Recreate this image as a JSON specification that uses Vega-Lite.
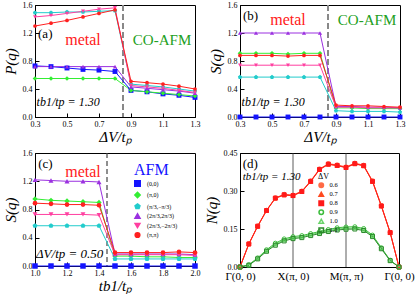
{
"$schema": "https://vega.github.io/schema/vega-lite/v6.json",
"padding": {"left": 2, "right": 2, "top": 0, "bottom": 0},
"config": {
  "font": "Liberation Serif",
  "view": {"stroke": "black", "strokeWidth": 1},
  "axis": {"labelFont": "Liberation Serif", "labelFontSize": 8, "labelColor": "black", "titleFont": "Liberation Serif", "titleFontSize": 15, "titleFontWeight": "normal", "titleFontStyle": "italic", "titleColor": "black", "grid": false, "domainColor": "black", "tickColor": "black", "tickSize": -4, "labelPadding": 7, "labelFlush": false, "labelOverlap": false, "labelBound": false},
  "legend": {"labelFont": "Liberation Serif", "titleFont": "Liberation Serif"}
},
"datasets": {
  "a": [
    {"q":"(0,0)","x":0.3,"y":0.73},{"q":"(0,0)","x":0.4,"y":0.72},{"q":"(0,0)","x":0.5,"y":0.70},{"q":"(0,0)","x":0.6,"y":0.68},{"q":"(0,0)","x":0.7,"y":0.67},{"q":"(0,0)","x":0.8,"y":0.65},{"q":"(0,0)","x":0.9,"y":0.38},{"q":"(0,0)","x":1.0,"y":0.36},{"q":"(0,0)","x":1.1,"y":0.33},{"q":"(0,0)","x":1.2,"y":0.31},{"q":"(0,0)","x":1.3,"y":0.28},
    {"q":"(π,0)","x":0.3,"y":0.55},{"q":"(π,0)","x":0.4,"y":0.55},{"q":"(π,0)","x":0.5,"y":0.55},{"q":"(π,0)","x":0.6,"y":0.55},{"q":"(π,0)","x":0.7,"y":0.55},{"q":"(π,0)","x":0.8,"y":0.55},{"q":"(π,0)","x":0.9,"y":0.38},{"q":"(π,0)","x":1.0,"y":0.36},{"q":"(π,0)","x":1.1,"y":0.34},{"q":"(π,0)","x":1.2,"y":0.32},{"q":"(π,0)","x":1.3,"y":0.30},
    {"q":"(π/3,−π/3)","x":0.3,"y":1.49},{"q":"(π/3,−π/3)","x":0.4,"y":1.49},{"q":"(π/3,−π/3)","x":0.5,"y":1.50},{"q":"(π/3,−π/3)","x":0.6,"y":1.50},{"q":"(π/3,−π/3)","x":0.7,"y":1.51},{"q":"(π/3,−π/3)","x":0.8,"y":1.52},{"q":"(π/3,−π/3)","x":0.9,"y":0.47},{"q":"(π/3,−π/3)","x":1.0,"y":0.45},{"q":"(π/3,−π/3)","x":1.1,"y":0.43},{"q":"(π/3,−π/3)","x":1.2,"y":0.40},{"q":"(π/3,−π/3)","x":1.3,"y":0.37},
    {"q":"(2π/3,2π/3)","x":0.3,"y":0.72},{"q":"(2π/3,2π/3)","x":0.4,"y":0.72},{"q":"(2π/3,2π/3)","x":0.5,"y":0.72},{"q":"(2π/3,2π/3)","x":0.6,"y":0.72},{"q":"(2π/3,2π/3)","x":0.7,"y":0.72},{"q":"(2π/3,2π/3)","x":0.8,"y":0.72},{"q":"(2π/3,2π/3)","x":0.9,"y":0.43},{"q":"(2π/3,2π/3)","x":1.0,"y":0.41},{"q":"(2π/3,2π/3)","x":1.1,"y":0.39},{"q":"(2π/3,2π/3)","x":1.2,"y":0.37},{"q":"(2π/3,2π/3)","x":1.3,"y":0.34},
    {"q":"(2π/3,−2π/3)","x":0.3,"y":1.43},{"q":"(2π/3,−2π/3)","x":0.4,"y":1.45},{"q":"(2π/3,−2π/3)","x":0.5,"y":1.48},{"q":"(2π/3,−2π/3)","x":0.6,"y":1.51},{"q":"(2π/3,−2π/3)","x":0.7,"y":1.54},{"q":"(2π/3,−2π/3)","x":0.8,"y":1.56},{"q":"(2π/3,−2π/3)","x":0.9,"y":0.45},{"q":"(2π/3,−2π/3)","x":1.0,"y":0.43},{"q":"(2π/3,−2π/3)","x":1.1,"y":0.41},{"q":"(2π/3,−2π/3)","x":1.2,"y":0.38},{"q":"(2π/3,−2π/3)","x":1.3,"y":0.35},
    {"q":"(π,π)","x":0.3,"y":1.30},{"q":"(π,π)","x":0.4,"y":1.34},{"q":"(π,π)","x":0.5,"y":1.38},{"q":"(π,π)","x":0.6,"y":1.43},{"q":"(π,π)","x":0.7,"y":1.48},{"q":"(π,π)","x":0.8,"y":1.53},{"q":"(π,π)","x":0.9,"y":0.51},{"q":"(π,π)","x":1.0,"y":0.49},{"q":"(π,π)","x":1.1,"y":0.47},{"q":"(π,π)","x":1.2,"y":0.44},{"q":"(π,π)","x":1.3,"y":0.40}
  ],
  "b": [
    {"q":"(0,0)","x":0.3,"y":0},{"q":"(0,0)","x":0.4,"y":0},{"q":"(0,0)","x":0.5,"y":0},{"q":"(0,0)","x":0.6,"y":0},{"q":"(0,0)","x":0.7,"y":0},{"q":"(0,0)","x":0.8,"y":0},{"q":"(0,0)","x":0.9,"y":0},{"q":"(0,0)","x":1.0,"y":0},{"q":"(0,0)","x":1.1,"y":0},{"q":"(0,0)","x":1.2,"y":0},{"q":"(0,0)","x":1.3,"y":0},
    {"q":"(π,0)","x":0.3,"y":0.91},{"q":"(π,0)","x":0.4,"y":0.91},{"q":"(π,0)","x":0.5,"y":0.91},{"q":"(π,0)","x":0.6,"y":0.90},{"q":"(π,0)","x":0.7,"y":0.91},{"q":"(π,0)","x":0.8,"y":0.91},{"q":"(π,0)","x":0.9,"y":0.13},{"q":"(π,0)","x":1.0,"y":0.13},{"q":"(π,0)","x":1.1,"y":0.12},{"q":"(π,0)","x":1.2,"y":0.12},{"q":"(π,0)","x":1.3,"y":0.12},
    {"q":"(π/3,−π/3)","x":0.3,"y":0.57},{"q":"(π/3,−π/3)","x":0.4,"y":0.57},{"q":"(π/3,−π/3)","x":0.5,"y":0.57},{"q":"(π/3,−π/3)","x":0.6,"y":0.57},{"q":"(π/3,−π/3)","x":0.7,"y":0.57},{"q":"(π/3,−π/3)","x":0.8,"y":0.57},{"q":"(π/3,−π/3)","x":0.9,"y":0.09},{"q":"(π/3,−π/3)","x":1.0,"y":0.08},{"q":"(π/3,−π/3)","x":1.1,"y":0.08},{"q":"(π/3,−π/3)","x":1.2,"y":0.08},{"q":"(π/3,−π/3)","x":1.3,"y":0.07},
    {"q":"(2π/3,2π/3)","x":0.3,"y":1.20},{"q":"(2π/3,2π/3)","x":0.4,"y":1.20},{"q":"(2π/3,2π/3)","x":0.5,"y":1.20},{"q":"(2π/3,2π/3)","x":0.6,"y":1.20},{"q":"(2π/3,2π/3)","x":0.7,"y":1.20},{"q":"(2π/3,2π/3)","x":0.8,"y":1.20},{"q":"(2π/3,2π/3)","x":0.9,"y":0.15},{"q":"(2π/3,2π/3)","x":1.0,"y":0.15},{"q":"(2π/3,2π/3)","x":1.1,"y":0.14},{"q":"(2π/3,2π/3)","x":1.2,"y":0.14},{"q":"(2π/3,2π/3)","x":1.3,"y":0.13},
    {"q":"(2π/3,−2π/3)","x":0.3,"y":0.74},{"q":"(2π/3,−2π/3)","x":0.4,"y":0.74},{"q":"(2π/3,−2π/3)","x":0.5,"y":0.74},{"q":"(2π/3,−2π/3)","x":0.6,"y":0.74},{"q":"(2π/3,−2π/3)","x":0.7,"y":0.74},{"q":"(2π/3,−2π/3)","x":0.8,"y":0.74},{"q":"(2π/3,−2π/3)","x":0.9,"y":0.14},{"q":"(2π/3,−2π/3)","x":1.0,"y":0.14},{"q":"(2π/3,−2π/3)","x":1.1,"y":0.13},{"q":"(2π/3,−2π/3)","x":1.2,"y":0.13},{"q":"(2π/3,−2π/3)","x":1.3,"y":0.13},
    {"q":"(π,π)","x":0.3,"y":0.88},{"q":"(π,π)","x":0.4,"y":0.88},{"q":"(π,π)","x":0.5,"y":0.88},{"q":"(π,π)","x":0.6,"y":0.87},{"q":"(π,π)","x":0.7,"y":0.88},{"q":"(π,π)","x":0.8,"y":0.88},{"q":"(π,π)","x":0.9,"y":0.17},{"q":"(π,π)","x":1.0,"y":0.16},{"q":"(π,π)","x":1.1,"y":0.16},{"q":"(π,π)","x":1.2,"y":0.15},{"q":"(π,π)","x":1.3,"y":0.14}
  ],
  "c": [
    {"q":"(0,0)","x":1.0,"y":0},{"q":"(0,0)","x":1.1,"y":0},{"q":"(0,0)","x":1.2,"y":0},{"q":"(0,0)","x":1.3,"y":0},{"q":"(0,0)","x":1.4,"y":0},{"q":"(0,0)","x":1.5,"y":0},{"q":"(0,0)","x":1.6,"y":0},{"q":"(0,0)","x":1.7,"y":0},{"q":"(0,0)","x":1.8,"y":0},{"q":"(0,0)","x":1.9,"y":0},{"q":"(0,0)","x":2.0,"y":0},
    {"q":"(π,0)","x":1.0,"y":0.95},{"q":"(π,0)","x":1.1,"y":0.93},{"q":"(π,0)","x":1.2,"y":0.92},{"q":"(π,0)","x":1.3,"y":0.91},{"q":"(π,0)","x":1.4,"y":0.90},{"q":"(π,0)","x":1.5,"y":0.14},{"q":"(π,0)","x":1.6,"y":0.14},{"q":"(π,0)","x":1.7,"y":0.13},{"q":"(π,0)","x":1.8,"y":0.13},{"q":"(π,0)","x":1.9,"y":0.12},{"q":"(π,0)","x":2.0,"y":0.12},
    {"q":"(π/3,−π/3)","x":1.0,"y":0.57},{"q":"(π/3,−π/3)","x":1.1,"y":0.57},{"q":"(π/3,−π/3)","x":1.2,"y":0.57},{"q":"(π/3,−π/3)","x":1.3,"y":0.57},{"q":"(π/3,−π/3)","x":1.4,"y":0.57},{"q":"(π/3,−π/3)","x":1.5,"y":0.10},{"q":"(π/3,−π/3)","x":1.6,"y":0.10},{"q":"(π/3,−π/3)","x":1.7,"y":0.10},{"q":"(π/3,−π/3)","x":1.8,"y":0.10},{"q":"(π/3,−π/3)","x":1.9,"y":0.10},{"q":"(π/3,−π/3)","x":2.0,"y":0.10},
    {"q":"(2π/3,2π/3)","x":1.0,"y":1.22},{"q":"(2π/3,2π/3)","x":1.1,"y":1.21},{"q":"(2π/3,2π/3)","x":1.2,"y":1.20},{"q":"(2π/3,2π/3)","x":1.3,"y":1.20},{"q":"(2π/3,2π/3)","x":1.4,"y":1.19},{"q":"(2π/3,2π/3)","x":1.5,"y":0.17},{"q":"(2π/3,2π/3)","x":1.6,"y":0.17},{"q":"(2π/3,2π/3)","x":1.7,"y":0.17},{"q":"(2π/3,2π/3)","x":1.8,"y":0.17},{"q":"(2π/3,2π/3)","x":1.9,"y":0.17},{"q":"(2π/3,2π/3)","x":2.0,"y":0.16},
    {"q":"(2π/3,−2π/3)","x":1.0,"y":0.73},{"q":"(2π/3,−2π/3)","x":1.1,"y":0.73},{"q":"(2π/3,−2π/3)","x":1.2,"y":0.73},{"q":"(2π/3,−2π/3)","x":1.3,"y":0.73},{"q":"(2π/3,−2π/3)","x":1.4,"y":0.72},{"q":"(2π/3,−2π/3)","x":1.5,"y":0.16},{"q":"(2π/3,−2π/3)","x":1.6,"y":0.16},{"q":"(2π/3,−2π/3)","x":1.7,"y":0.16},{"q":"(2π/3,−2π/3)","x":1.8,"y":0.16},{"q":"(2π/3,−2π/3)","x":1.9,"y":0.16},{"q":"(2π/3,−2π/3)","x":2.0,"y":0.15},
    {"q":"(π,π)","x":1.0,"y":0.89},{"q":"(π,π)","x":1.1,"y":0.88},{"q":"(π,π)","x":1.2,"y":0.87},{"q":"(π,π)","x":1.3,"y":0.87},{"q":"(π,π)","x":1.4,"y":0.86},{"q":"(π,π)","x":1.5,"y":0.19},{"q":"(π,π)","x":1.6,"y":0.19},{"q":"(π,π)","x":1.7,"y":0.19},{"q":"(π,π)","x":1.8,"y":0.19},{"q":"(π,π)","x":1.9,"y":0.20},{"q":"(π,π)","x":2.0,"y":0.19}
  ],
  "d": [
    {"dv":"0.6","i":0,"y":0},{"dv":"0.6","i":1,"y":0.092},{"dv":"0.6","i":2,"y":0.162},{"dv":"0.6","i":3,"y":0.224},{"dv":"0.6","i":4,"y":0.273},{"dv":"0.6","i":5,"y":0.287},{"dv":"0.6","i":6,"y":0.284},{"dv":"0.6","i":7,"y":0.300},{"dv":"0.6","i":8,"y":0.340},{"dv":"0.6","i":9,"y":0.387},{"dv":"0.6","i":10,"y":0.408},{"dv":"0.6","i":11,"y":0.403},{"dv":"0.6","i":12,"y":0.395},{"dv":"0.6","i":13,"y":0.410},{"dv":"0.6","i":14,"y":0.402},{"dv":"0.6","i":15,"y":0.340},{"dv":"0.6","i":16,"y":0.243},{"dv":"0.6","i":17,"y":0.137},{"dv":"0.6","i":18,"y":0},
    {"dv":"0.7","i":0,"y":0},{"dv":"0.7","i":1,"y":0.090},{"dv":"0.7","i":2,"y":0.160},{"dv":"0.7","i":3,"y":0.222},{"dv":"0.7","i":4,"y":0.271},{"dv":"0.7","i":5,"y":0.284},{"dv":"0.7","i":6,"y":0.281},{"dv":"0.7","i":7,"y":0.297},{"dv":"0.7","i":8,"y":0.337},{"dv":"0.7","i":9,"y":0.384},{"dv":"0.7","i":10,"y":0.405},{"dv":"0.7","i":11,"y":0.400},{"dv":"0.7","i":12,"y":0.392},{"dv":"0.7","i":13,"y":0.407},{"dv":"0.7","i":14,"y":0.399},{"dv":"0.7","i":15,"y":0.337},{"dv":"0.7","i":16,"y":0.240},{"dv":"0.7","i":17,"y":0.135},{"dv":"0.7","i":18,"y":0},
    {"dv":"0.8","i":0,"y":0},{"dv":"0.8","i":1,"y":0.091},{"dv":"0.8","i":2,"y":0.161},{"dv":"0.8","i":3,"y":0.223},{"dv":"0.8","i":4,"y":0.272},{"dv":"0.8","i":5,"y":0.285},{"dv":"0.8","i":6,"y":0.282},{"dv":"0.8","i":7,"y":0.298},{"dv":"0.8","i":8,"y":0.338},{"dv":"0.8","i":9,"y":0.385},{"dv":"0.8","i":10,"y":0.406},{"dv":"0.8","i":11,"y":0.401},{"dv":"0.8","i":12,"y":0.393},{"dv":"0.8","i":13,"y":0.408},{"dv":"0.8","i":14,"y":0.400},{"dv":"0.8","i":15,"y":0.338},{"dv":"0.8","i":16,"y":0.241},{"dv":"0.8","i":17,"y":0.136},{"dv":"0.8","i":18,"y":0},
    {"dv":"0.9","i":0,"y":0},{"dv":"0.9","i":1,"y":0.009},{"dv":"0.9","i":2,"y":0.036},{"dv":"0.9","i":3,"y":0.068},{"dv":"0.9","i":4,"y":0.094},{"dv":"0.9","i":5,"y":0.111},{"dv":"0.9","i":6,"y":0.120},{"dv":"0.9","i":7,"y":0.124},{"dv":"0.9","i":8,"y":0.132},{"dv":"0.9","i":9,"y":0.140},{"dv":"0.9","i":10,"y":0.148},{"dv":"0.9","i":11,"y":0.155},{"dv":"0.9","i":12,"y":0.158},{"dv":"0.9","i":13,"y":0.159},{"dv":"0.9","i":14,"y":0.152},{"dv":"0.9","i":15,"y":0.126},{"dv":"0.9","i":16,"y":0.076},{"dv":"0.9","i":17,"y":0.027},{"dv":"0.9","i":18,"y":0},
    {"dv":"1.0","i":0,"y":0},{"dv":"1.0","i":1,"y":0.008},{"dv":"1.0","i":2,"y":0.034},{"dv":"1.0","i":3,"y":0.065},{"dv":"1.0","i":4,"y":0.090},{"dv":"1.0","i":5,"y":0.107},{"dv":"1.0","i":6,"y":0.116},{"dv":"1.0","i":7,"y":0.120},{"dv":"1.0","i":8,"y":0.128},{"dv":"1.0","i":9,"y":0.136},{"dv":"1.0","i":10,"y":0.144},{"dv":"1.0","i":11,"y":0.150},{"dv":"1.0","i":12,"y":0.153},{"dv":"1.0","i":13,"y":0.154},{"dv":"1.0","i":14,"y":0.148},{"dv":"1.0","i":15,"y":0.123},{"dv":"1.0","i":16,"y":0.074},{"dv":"1.0","i":17,"y":0.026},{"dv":"1.0","i":18,"y":0},
    {"dv":"1.1","i":0,"y":0},{"dv":"1.1","i":1,"y":0.007},{"dv":"1.1","i":2,"y":0.032},{"dv":"1.1","i":3,"y":0.062},{"dv":"1.1","i":4,"y":0.086},{"dv":"1.1","i":5,"y":0.103},{"dv":"1.1","i":6,"y":0.112},{"dv":"1.1","i":7,"y":0.116},{"dv":"1.1","i":8,"y":0.124},{"dv":"1.1","i":9,"y":0.132},{"dv":"1.1","i":10,"y":0.140},{"dv":"1.1","i":11,"y":0.146},{"dv":"1.1","i":12,"y":0.149},{"dv":"1.1","i":13,"y":0.150},{"dv":"1.1","i":14,"y":0.144},{"dv":"1.1","i":15,"y":0.120},{"dv":"1.1","i":16,"y":0.072},{"dv":"1.1","i":17,"y":0.025},{"dv":"1.1","i":18,"y":0}
  ]
},
"columns": 2,
"spacing": {"row": 36, "column": 45},
"bounds": "flush",
"resolve": {"scale": {"color": "independent", "shape": "independent", "fill": "independent", "stroke": "independent", "size": "independent"}, "legend": {"color": "independent", "shape": "independent", "fill": "independent", "stroke": "independent", "size": "independent"}},
"concat": [
  {
    "width": 160, "height": 112,
    "layer": [
      {"data": {"values": [{"v": 0.85}]}, "mark": {"type": "rule", "color": "#888888", "strokeWidth": 2, "strokeDash": [6, 3]}, "encoding": {
        "x": {"field": "v", "type": "quantitative", "scale": {"domain": [0.3, 1.3], "nice": false, "zero": false}, "axis": {"values": [0.3,0.5,0.7,0.9,1.1,1.3], "format": ".1f", "title": "ΔV/tₚ", "titlePadding": 1, "labelOverlap": false}}}},
      {"data": {"name": "a"}, "mark": {"type": "line", "strokeWidth": 1}, "encoding": {
        "x": {"field": "x", "type": "quantitative", "axis": {"values": [0.3,0.5,0.7,0.9,1.1,1.3], "format": ".1f", "title": "ΔV/tₚ", "titlePadding": 1, "labelOverlap": false}},
        "y": {"field": "y", "type": "quantitative", "scale": {"domain": [0, 1.6], "nice": false}, "axis": {"values": [0,0.4,0.8,1.2,1.6], "format": ".1f", "title": "P(q)", "titlePadding": 4, "labelOverlap": false}},
        "stroke": {"field": "q", "type": "nominal", "scale": {"domain": ["(0,0)","(π,0)","(π/3,−π/3)","(2π/3,2π/3)","(2π/3,−2π/3)","(π,π)"], "range": ["#1414ff","#33ee33","#22cccc","#9b30e0","#ff3fa0","#ff2020"]}, "legend": null}}},
      {"data": {"name": "a"}, "mark": {"type": "point", "filled": true, "opacity": 1, "strokeWidth": 0}, "encoding": {
        "x": {"field": "x", "type": "quantitative", "axis": {"values": [0.3,0.5,0.7,0.9,1.1,1.3], "format": ".1f", "title": "ΔV/tₚ", "titlePadding": 1, "labelOverlap": false}},
        "y": {"field": "y", "type": "quantitative", "axis": {"values": [0,0.4,0.8,1.2,1.6], "format": ".1f", "title": "P(q)", "titlePadding": 4, "labelOverlap": false}},
        "fill": {"field": "q", "type": "nominal", "scale": {"domain": ["(0,0)","(π,0)","(π/3,−π/3)","(2π/3,2π/3)","(2π/3,−2π/3)","(π,π)"], "range": ["#1414ff","#33ee33","#22cccc","#9b30e0","#ff3fa0","#ff2020"]}, "legend": null},
        "shape": {"field": "q", "type": "nominal", "scale": {"domain": ["(0,0)","(π,0)","(π/3,−π/3)","(2π/3,2π/3)","(2π/3,−2π/3)","(π,π)"], "range": ["square","diamond","M0,-1L0.951,-0.309L0.588,0.809L-0.588,0.809L-0.951,-0.309Z","triangle-up","triangle-down","circle"]}, "legend": null},
        "size": {"field": "q", "type": "nominal", "scale": {"domain": ["(0,0)","(π,0)","(π/3,−π/3)","(2π/3,2π/3)","(2π/3,−2π/3)","(π,π)"], "range": [24,14,14,14,14,26]}, "legend": null}}},
      {"data": {"values": [{}]}, "mark": {"type": "text", "text": "(a)", "fontSize": 13, "align": "left", "baseline": "middle"}, "encoding": {
        "x": {"datum": 0.319, "type": "quantitative", "axis": {"values": [0.3,0.5,0.7,0.9,1.1,1.3], "format": ".1f", "title": "ΔV/tₚ", "titlePadding": 1, "labelOverlap": false}},
        "y": {"datum": 1.19, "type": "quantitative", "axis": {"values": [0,0.4,0.8,1.2,1.6], "format": ".1f", "title": "P(q)", "titlePadding": 4, "labelOverlap": false}}}},
      {"data": {"values": [{}]}, "mark": {"type": "text", "text": "metal", "fontSize": 16, "color": "#ff2020", "align": "center", "baseline": "middle"}, "encoding": {
        "x": {"datum": 0.6, "type": "quantitative", "axis": {"values": [0.3,0.5,0.7,0.9,1.1,1.3], "format": ".1f", "title": "ΔV/tₚ", "titlePadding": 1, "labelOverlap": false}},
        "y": {"datum": 1.1, "type": "quantitative", "axis": {"values": [0,0.4,0.8,1.2,1.6], "format": ".1f", "title": "P(q)", "titlePadding": 4, "labelOverlap": false}}}},
      {"data": {"values": [{}]}, "mark": {"type": "text", "text": "CO-AFM", "fontSize": 15, "color": "#22a022", "align": "center", "baseline": "middle"}, "encoding": {
        "x": {"datum": 1.094, "type": "quantitative", "axis": {"values": [0.3,0.5,0.7,0.9,1.1,1.3], "format": ".1f", "title": "ΔV/tₚ", "titlePadding": 1, "labelOverlap": false}},
        "y": {"datum": 1.1, "type": "quantitative", "axis": {"values": [0,0.4,0.8,1.2,1.6], "format": ".1f", "title": "P(q)", "titlePadding": 4, "labelOverlap": false}}}},
      {"data": {"values": [{}]}, "mark": {"type": "text", "text": "tb1/tp = 1.30", "fontSize": 12, "fontStyle": "italic", "align": "left", "baseline": "middle"}, "encoding": {
        "x": {"datum": 0.31, "type": "quantitative", "axis": {"values": [0.3,0.5,0.7,0.9,1.1,1.3], "format": ".1f", "title": "ΔV/tₚ", "titlePadding": 1, "labelOverlap": false}},
        "y": {"datum": 0.214, "type": "quantitative", "axis": {"values": [0,0.4,0.8,1.2,1.6], "format": ".1f", "title": "P(q)", "titlePadding": 4, "labelOverlap": false}}}}
    ]
  },
  {
    "width": 160, "height": 112,
    "layer": [
      {"data": {"values": [{"v": 0.85}]}, "mark": {"type": "rule", "color": "#888888", "strokeWidth": 2, "strokeDash": [6, 3]}, "encoding": {
        "x": {"field": "v", "type": "quantitative", "scale": {"domain": [0.3, 1.3], "nice": false, "zero": false}, "axis": {"values": [0.3,0.5,0.7,0.9,1.1,1.3], "format": ".1f", "title": "ΔV/tₚ", "titlePadding": 1, "labelOverlap": false}}}},
      {"data": {"name": "b"}, "mark": {"type": "line", "strokeWidth": 1}, "encoding": {
        "x": {"field": "x", "type": "quantitative", "axis": {"values": [0.3,0.5,0.7,0.9,1.1,1.3], "format": ".1f", "title": "ΔV/tₚ", "titlePadding": 1, "labelOverlap": false}},
        "y": {"field": "y", "type": "quantitative", "scale": {"domain": [0, 1.6], "nice": false}, "axis": {"values": [0,0.4,0.8,1.2,1.6], "format": ".1f", "title": "S(q)", "titlePadding": 4, "labelOverlap": false}},
        "stroke": {"field": "q", "type": "nominal", "scale": {"domain": ["(0,0)","(π,0)","(π/3,−π/3)","(2π/3,2π/3)","(2π/3,−2π/3)","(π,π)"], "range": ["#1414ff","#33ee33","#22cccc","#9b30e0","#ff3fa0","#ff2020"]}, "legend": null}}},
      {"data": {"name": "b"}, "mark": {"type": "point", "filled": true, "opacity": 1, "strokeWidth": 0}, "encoding": {
        "x": {"field": "x", "type": "quantitative", "axis": {"values": [0.3,0.5,0.7,0.9,1.1,1.3], "format": ".1f", "title": "ΔV/tₚ", "titlePadding": 1, "labelOverlap": false}},
        "y": {"field": "y", "type": "quantitative", "axis": {"values": [0,0.4,0.8,1.2,1.6], "format": ".1f", "title": "S(q)", "titlePadding": 4, "labelOverlap": false}},
        "fill": {"field": "q", "type": "nominal", "scale": {"domain": ["(0,0)","(π,0)","(π/3,−π/3)","(2π/3,2π/3)","(2π/3,−2π/3)","(π,π)"], "range": ["#1414ff","#33ee33","#22cccc","#9b30e0","#ff3fa0","#ff2020"]}, "legend": null},
        "shape": {"field": "q", "type": "nominal", "scale": {"domain": ["(0,0)","(π,0)","(π/3,−π/3)","(2π/3,2π/3)","(2π/3,−2π/3)","(π,π)"], "range": ["square","diamond","M0,-1L0.951,-0.309L0.588,0.809L-0.588,0.809L-0.951,-0.309Z","triangle-up","triangle-down","circle"]}, "legend": null},
        "size": {"field": "q", "type": "nominal", "scale": {"domain": ["(0,0)","(π,0)","(π/3,−π/3)","(2π/3,2π/3)","(2π/3,−2π/3)","(π,π)"], "range": [24,14,14,14,14,26]}, "legend": null}}},
      {"data": {"values": [{}]}, "mark": {"type": "text", "text": "(b)", "fontSize": 13, "align": "left", "baseline": "middle"}, "encoding": {
        "x": {"datum": 0.319, "type": "quantitative", "axis": {"values": [0.3,0.5,0.7,0.9,1.1,1.3], "format": ".1f", "title": "ΔV/tₚ", "titlePadding": 1, "labelOverlap": false}},
        "y": {"datum": 1.44, "type": "quantitative", "axis": {"values": [0,0.4,0.8,1.2,1.6], "format": ".1f", "title": "S(q)", "titlePadding": 4, "labelOverlap": false}}}},
      {"data": {"values": [{}]}, "mark": {"type": "text", "text": "metal", "fontSize": 16, "color": "#ff2020", "align": "center", "baseline": "middle"}, "encoding": {
        "x": {"datum": 0.6, "type": "quantitative", "axis": {"values": [0.3,0.5,0.7,0.9,1.1,1.3], "format": ".1f", "title": "ΔV/tₚ", "titlePadding": 1, "labelOverlap": false}},
        "y": {"datum": 1.39, "type": "quantitative", "axis": {"values": [0,0.4,0.8,1.2,1.6], "format": ".1f", "title": "S(q)", "titlePadding": 4, "labelOverlap": false}}}},
      {"data": {"values": [{}]}, "mark": {"type": "text", "text": "CO-AFM", "fontSize": 15, "color": "#22a022", "align": "center", "baseline": "middle"}, "encoding": {
        "x": {"datum": 1.094, "type": "quantitative", "axis": {"values": [0.3,0.5,0.7,0.9,1.1,1.3], "format": ".1f", "title": "ΔV/tₚ", "titlePadding": 1, "labelOverlap": false}},
        "y": {"datum": 1.39, "type": "quantitative", "axis": {"values": [0,0.4,0.8,1.2,1.6], "format": ".1f", "title": "S(q)", "titlePadding": 4, "labelOverlap": false}}}},
      {"data": {"values": [{}]}, "mark": {"type": "text", "text": "tb1/tp = 1.30", "fontSize": 12, "fontStyle": "italic", "align": "left", "baseline": "middle"}, "encoding": {
        "x": {"datum": 0.31, "type": "quantitative", "axis": {"values": [0.3,0.5,0.7,0.9,1.1,1.3], "format": ".1f", "title": "ΔV/tₚ", "titlePadding": 1, "labelOverlap": false}},
        "y": {"datum": 0.214, "type": "quantitative", "axis": {"values": [0,0.4,0.8,1.2,1.6], "format": ".1f", "title": "S(q)", "titlePadding": 4, "labelOverlap": false}}}}
    ]
  },
  {
    "width": 160, "height": 113,
    "layer": [
      {"data": {"values": [{"v": 1.45}]}, "mark": {"type": "rule", "color": "#444444", "strokeWidth": 1.2, "strokeDash": [5, 3]}, "encoding": {
        "x": {"field": "v", "type": "quantitative", "scale": {"domain": [1.0, 2.0], "nice": false, "zero": false}, "axis": {"values": [1.0,1.2,1.4,1.6,1.8,2.0], "format": ".1f", "title": "tb1/tₚ", "titlePadding": 1, "labelOverlap": false}}}},
      {"data": {"name": "c"}, "mark": {"type": "line", "strokeWidth": 1}, "encoding": {
        "x": {"field": "x", "type": "quantitative", "axis": {"values": [1.0,1.2,1.4,1.6,1.8,2.0], "format": ".1f", "title": "tb1/tₚ", "titlePadding": 1, "labelOverlap": false}},
        "y": {"field": "y", "type": "quantitative", "scale": {"domain": [0, 1.6], "nice": false}, "axis": {"values": [0,0.4,0.8,1.2,1.6], "format": ".1f", "title": "S(q)", "titlePadding": 4, "labelOverlap": false}},
        "stroke": {"field": "q", "type": "nominal", "scale": {"domain": ["(0,0)","(π,0)","(π/3,−π/3)","(2π/3,2π/3)","(2π/3,−2π/3)","(π,π)"], "range": ["#1414ff","#33ee33","#22cccc","#9b30e0","#ff3fa0","#ff2020"]}, "legend": {"orient": "none", "legendX": 99, "legendY": 9, "title": "AFM", "titleColor": "#1414ff", "titleFontSize": 16, "titleFontWeight": "normal", "titlePadding": 2, "labelFontSize": 6, "rowPadding": -1.5, "labelOffset": 6, "padding": 0}}}},
      {"data": {"name": "c"}, "mark": {"type": "point", "filled": true, "opacity": 1, "strokeWidth": 0}, "encoding": {
        "x": {"field": "x", "type": "quantitative", "axis": {"values": [1.0,1.2,1.4,1.6,1.8,2.0], "format": ".1f", "title": "tb1/tₚ", "titlePadding": 1, "labelOverlap": false}},
        "y": {"field": "y", "type": "quantitative", "axis": {"values": [0,0.4,0.8,1.2,1.6], "format": ".1f", "title": "S(q)", "titlePadding": 4, "labelOverlap": false}},
        "fill": {"field": "q", "type": "nominal", "scale": {"domain": ["(0,0)","(π,0)","(π/3,−π/3)","(2π/3,2π/3)","(2π/3,−2π/3)","(π,π)"], "range": ["#1414ff","#33ee33","#22cccc","#9b30e0","#ff3fa0","#ff2020"]}, "legend": {"orient": "none", "legendX": 99, "legendY": 9, "title": "AFM", "titleColor": "#1414ff", "titleFontSize": 16, "titleFontWeight": "normal", "titlePadding": 2, "labelFontSize": 6, "rowPadding": -1.5, "labelOffset": 6, "padding": 0}},
        "shape": {"field": "q", "type": "nominal", "scale": {"domain": ["(0,0)","(π,0)","(π/3,−π/3)","(2π/3,2π/3)","(2π/3,−2π/3)","(π,π)"], "range": ["square","diamond","M0,-1L0.951,-0.309L0.588,0.809L-0.588,0.809L-0.951,-0.309Z","triangle-up","triangle-down","circle"]}, "legend": {"orient": "none", "legendX": 99, "legendY": 9, "title": "AFM", "titleColor": "#1414ff", "titleFontSize": 16, "titleFontWeight": "normal", "titlePadding": 2, "labelFontSize": 6, "rowPadding": -1.5, "labelOffset": 6, "padding": 0}},
        "size": {"field": "q", "type": "nominal", "scale": {"domain": ["(0,0)","(π,0)","(π/3,−π/3)","(2π/3,2π/3)","(2π/3,−2π/3)","(π,π)"], "range": [30,22,24,22,22,34]}, "legend": {"orient": "none", "legendX": 99, "legendY": 9, "title": "AFM", "titleColor": "#1414ff", "titleFontSize": 16, "titleFontWeight": "normal", "titlePadding": 2, "labelFontSize": 6, "rowPadding": -1.5, "labelOffset": 6, "padding": 0}}}},
      {"data": {"values": [{}]}, "mark": {"type": "text", "text": "(c)", "fontSize": 13, "align": "left", "baseline": "middle"}, "encoding": {
        "x": {"datum": 1.02, "type": "quantitative", "axis": {"values": [1.0,1.2,1.4,1.6,1.8,2.0], "format": ".1f", "title": "tb1/tₚ", "titlePadding": 1, "labelOverlap": false}},
        "y": {"datum": 1.44, "type": "quantitative", "axis": {"values": [0,0.4,0.8,1.2,1.6], "format": ".1f", "title": "S(q)", "titlePadding": 4, "labelOverlap": false}}}},
      {"data": {"values": [{}]}, "mark": {"type": "text", "text": "metal", "fontSize": 16, "color": "#ff2020", "align": "center", "baseline": "middle"}, "encoding": {
        "x": {"datum": 1.3, "type": "quantitative", "axis": {"values": [1.0,1.2,1.4,1.6,1.8,2.0], "format": ".1f", "title": "tb1/tₚ", "titlePadding": 1, "labelOverlap": false}},
        "y": {"datum": 1.33, "type": "quantitative", "axis": {"values": [0,0.4,0.8,1.2,1.6], "format": ".1f", "title": "S(q)", "titlePadding": 4, "labelOverlap": false}}}},
      {"data": {"values": [{}]}, "mark": {"type": "text", "text": "ΔV/tp = 0.50", "fontSize": 13, "fontStyle": "italic", "align": "left", "baseline": "middle"}, "encoding": {
        "x": {"datum": 1.006, "type": "quantitative", "axis": {"values": [1.0,1.2,1.4,1.6,1.8,2.0], "format": ".1f", "title": "tb1/tₚ", "titlePadding": 1, "labelOverlap": false}},
        "y": {"datum": 0.17, "type": "quantitative", "axis": {"values": [0,0.4,0.8,1.2,1.6], "format": ".1f", "title": "S(q)", "titlePadding": 4, "labelOverlap": false}}}}
    ]
  },
  {
    "width": 159, "height": 114,
    "layer": [
      {"data": {"values": [{"v": 6}, {"v": 12}]}, "mark": {"type": "rule", "color": "#333333", "strokeWidth": 0.8}, "encoding": {
        "x": {"field": "v", "type": "quantitative", "scale": {"domain": [0, 18], "nice": false, "zero": false}, "axis": {"values": [0, 6, 12, 18], "labelExpr": "datum.value == 6 ? 'X(π, 0)' : datum.value == 12 ? 'M(π, π)' : 'Γ(0, 0)'", "labelFontSize": 11, "title": null, "tickSize": 0, "labelPadding": 3, "labelOverlap": false}}}},
      {"data": {"name": "d"}, "mark": {"type": "line", "strokeWidth": 1}, "encoding": {
        "x": {"field": "i", "type": "quantitative", "axis": {"values": [0, 6, 12, 18], "labelExpr": "datum.value == 6 ? 'X(π, 0)' : datum.value == 12 ? 'M(π, π)' : 'Γ(0, 0)'", "labelFontSize": 11, "title": null, "tickSize": 0, "labelPadding": 3, "labelOverlap": false}},
        "y": {"field": "y", "type": "quantitative", "scale": {"domain": [0, 0.45], "nice": false}, "axis": {"values": [0, 0.15, 0.3, 0.45], "labelExpr": "datum.value == 0 ? '0.0' : format(datum.value, '.2f')", "title": "N(q)", "titlePadding": 4, "labelOverlap": false}},
        "stroke": {"field": "dv", "type": "nominal", "scale": {"domain": ["0.6","0.7","0.8","0.9","1.0","1.1"], "range": ["#ff6a45","#ff4a20","#ff1a1a","#3cbc3c","#6ad46a","#2a8a2a"]}, "legend": {"orient": "none", "legendX": 78, "legendY": 20, "title": "ΔV", "titleFontSize": 8, "titleFontWeight": "normal", "titlePadding": 1, "labelFontSize": 6.5, "symbolSize": 20, "rowPadding": -2.5, "labelOffset": 5, "padding": 0}}}},
      {"data": {"name": "d"}, "mark": {"type": "point", "filled": false, "opacity": 1, "strokeWidth": 1}, "encoding": {
        "x": {"field": "i", "type": "quantitative", "axis": {"values": [0, 6, 12, 18], "labelExpr": "datum.value == 6 ? 'X(π, 0)' : datum.value == 12 ? 'M(π, π)' : 'Γ(0, 0)'", "labelFontSize": 11, "title": null, "tickSize": 0, "labelPadding": 3, "labelOverlap": false}},
        "y": {"field": "y", "type": "quantitative", "axis": {"values": [0, 0.15, 0.3, 0.45], "labelExpr": "datum.value == 0 ? '0.0' : format(datum.value, '.2f')", "title": "N(q)", "titlePadding": 4, "labelOverlap": false}},
        "stroke": {"field": "dv", "type": "nominal", "legend": {"orient": "none", "legendX": 78, "legendY": 20, "title": "ΔV", "titleFontSize": 8, "titleFontWeight": "normal", "titlePadding": 1, "labelFontSize": 6.5, "symbolSize": 20, "rowPadding": -2.5, "labelOffset": 5, "padding": 0}},
        "fill": {"field": "dv", "type": "nominal", "scale": {"domain": ["0.6","0.7","0.8","0.9","1.0","1.1"], "range": ["#ff6a45","#ff4a20","#ff1a1a","transparent","transparent","transparent"]}, "legend": {"orient": "none", "legendX": 78, "legendY": 20, "title": "ΔV", "titleFontSize": 8, "titleFontWeight": "normal", "titlePadding": 1, "labelFontSize": 6.5, "symbolSize": 20, "rowPadding": -2.5, "labelOffset": 5, "padding": 0}},
        "shape": {"field": "dv", "type": "nominal", "scale": {"domain": ["0.6","0.7","0.8","0.9","1.0","1.1"], "range": ["circle","triangle-up","square","circle","triangle-up","square"]}, "legend": {"orient": "none", "legendX": 78, "legendY": 20, "title": "ΔV", "titleFontSize": 8, "titleFontWeight": "normal", "titlePadding": 1, "labelFontSize": 6.5, "symbolSize": 20, "rowPadding": -2.5, "labelOffset": 5, "padding": 0}},
        "size": {"value": 16}}},
      {"data": {"values": [{}]}, "mark": {"type": "text", "text": "(d)", "fontSize": 13, "align": "left", "baseline": "middle"}, "encoding": {
        "x": {"datum": 0.3, "type": "quantitative", "axis": {"values": [0, 6, 12, 18], "labelExpr": "datum.value == 6 ? 'X(π, 0)' : datum.value == 12 ? 'M(π, π)' : 'Γ(0, 0)'", "labelFontSize": 11, "title": null, "tickSize": 0, "labelPadding": 3, "labelOverlap": false}},
        "y": {"datum": 0.408, "type": "quantitative", "axis": {"values": [0, 0.15, 0.3, 0.45], "labelExpr": "datum.value == 0 ? '0.0' : format(datum.value, '.2f')", "title": "N(q)", "titlePadding": 4, "labelOverlap": false}}}},
      {"data": {"values": [{}]}, "mark": {"type": "text", "text": "tb1/tp = 1.30", "fontSize": 11, "fontStyle": "italic", "align": "left", "baseline": "middle"}, "encoding": {
        "x": {"datum": 0.3, "type": "quantitative", "axis": {"values": [0, 6, 12, 18], "labelExpr": "datum.value == 6 ? 'X(π, 0)' : datum.value == 12 ? 'M(π, π)' : 'Γ(0, 0)'", "labelFontSize": 11, "title": null, "tickSize": 0, "labelPadding": 3, "labelOverlap": false}},
        "y": {"datum": 0.356, "type": "quantitative", "axis": {"values": [0, 0.15, 0.3, 0.45], "labelExpr": "datum.value == 0 ? '0.0' : format(datum.value, '.2f')", "title": "N(q)", "titlePadding": 4, "labelOverlap": false}}}}
    ]
  }
]
}
